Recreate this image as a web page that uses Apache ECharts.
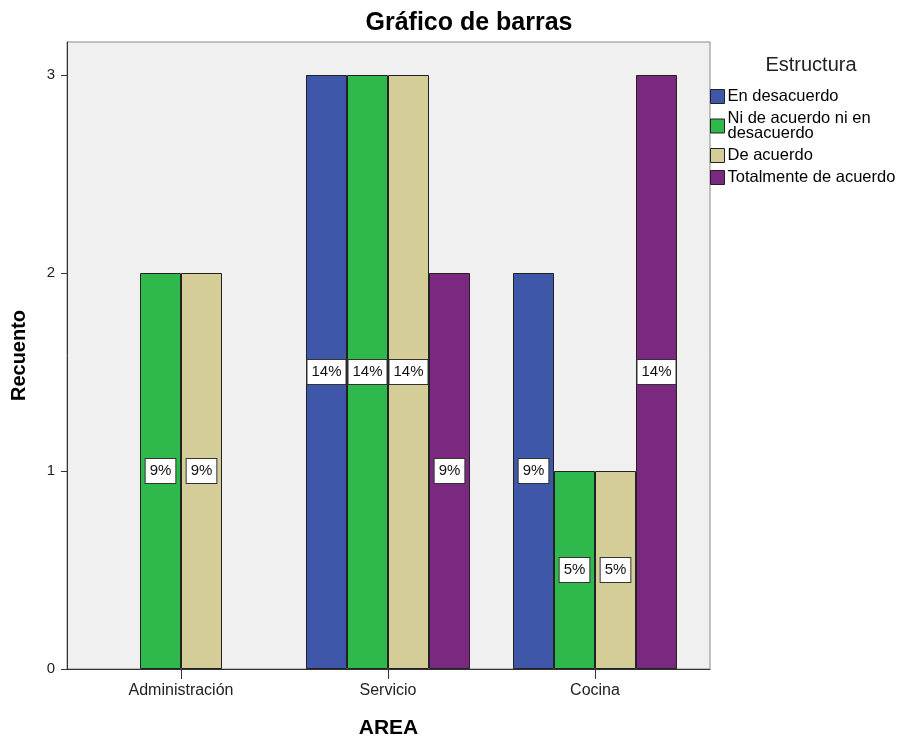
<!DOCTYPE html>
<html>
<head>
<meta charset="utf-8">
<script src="https://cdn.jsdelivr.net/npm/echarts@6/dist/echarts.min.js"></script>
<style>
  html, body { margin: 0; padding: 0; background: #fff; }
  #chart { width: 902px; height: 736px; }
</style>
</head>
<body>
<div id="chart"></div>
<script>
var areas = ['Administración', 'Servicio', 'Cocina'];
var groups = ['En desacuerdo', 'Ni de acuerdo ni en\ndesacuerdo', 'De acuerdo', 'Totalmente de acuerdo'];
var colors = ['#3f57a9', '#2fb84b', '#d4cd98', '#7b2980'];
// recuento por area
var enDesacuerdo = [null, 3, 2];
var niNi = [2, 3, 1];
var deAcuerdo = [2, 3, 1];
var totalmente = [null, 2, 3];
// porcentaje mostrado en cada barra
var pctEnDesacuerdo = ['', '14%', '9%'];
var pctNiNi = ['9%', '14%', '5%'];
var pctDeAcuerdo = ['9%', '14%', '5%'];
var pctTotalmente = ['', '9%', '14%'];
var yTicks = [0, 1, 2, 3];
var yMax = 3.1667;

var font = 'Liberation Sans, Arial, sans-serif';

function makeSeries(name, values, pcts, idx) {
    return {
        name: name,
        type: 'bar',
        xAxisIndex: 1,
        yAxisIndex: 1,
        barWidth: 41,
        barGap: '0%',
        itemStyle: {
            color: colors[idx],
            borderColor: '#222',
            borderWidth: 1
        },
        label: {
            show: true,
            position: 'inside',
            formatter: function (p) { return pcts[p.dataIndex]; },
            color: '#111',
            fontFamily: font,
            fontSize: 15,
            backgroundColor: '#fff',
            borderColor: '#333',
            borderWidth: 1,
            padding: [5, 4, 4, 4]
        },
        data: values
    };
}

var option = {
    animation: false,
    title: [
        {
            text: 'Gráfico de barras',
            left: 464,
            top: 6,
            textAlign: 'center',
            textStyle: { fontFamily: font, fontSize: 25, fontWeight: 'bold', color: '#000' }
        },
        {
            text: 'Estructura',
            left: 806,
            top: 50,
            textAlign: 'center',
            textStyle: { fontFamily: font, fontSize: 20, fontWeight: 'normal', color: '#222' }
        }
    ],
    legend: {
        orient: 'vertical',
        left: 710,
        top: 88,
        padding: 0,
        itemWidth: 14,
        itemHeight: 14,
        itemGap: 5,
        icon: 'rect',
        data: groups,
        itemStyle: { borderColor: '#222', borderWidth: 1 },
        textStyle: { fontFamily: font, fontSize: 16.5, color: '#000', lineHeight: 15, padding: [0, 0, 0, -2] }
    },
    grid: [
        { left: 67, right: 192, top: 42, bottom: 67, outerBoundsMode: 'none', show: true, backgroundColor: '#f0f0f0', borderColor: '#888', borderWidth: 1 },
        { left: 77.5, right: 203.5, top: 42, bottom: 67, outerBoundsMode: 'none' }
    ],
    xAxis: [
        {
            gridIndex: 0, type: 'value', min: 0, max: 1,
            axisLine: { show: true, onZero: false, lineStyle: { color: '#333', width: 1 } },
            axisTick: { show: false }, axisLabel: { show: false }, splitLine: { show: false },
            name: 'AREA', nameLocation: 'middle', nameGap: 49,
            nameTextStyle: { fontFamily: font, fontSize: 21, fontWeight: 'bold', color: '#000' }
        },
        {
            gridIndex: 1, type: 'category', data: areas,
            axisLine: { show: false },
            axisTick: { show: true, alignWithLabel: true, length: 10, lineStyle: { color: '#333' } },
            axisLabel: { fontFamily: font, fontSize: 16, color: '#222', margin: 14 },
            splitLine: { show: false }
        }
    ],
    yAxis: [
        {
            gridIndex: 0, type: 'value', min: 0, max: yMax, interval: 1,
            axisLine: { show: true, lineStyle: { color: '#333', width: 1 } },
            axisTick: { show: true, length: 6, customValues: yTicks, lineStyle: { color: '#333' } },
            axisLabel: { customValues: yTicks, fontFamily: font, fontSize: 15, color: '#222', margin: 12 },
            splitLine: { show: false },
            name: 'Recuento', nameLocation: 'middle', nameGap: 38, nameRotate: 90,
            nameTextStyle: { fontFamily: font, fontSize: 20, fontWeight: 'bold', color: '#000' }
        },
        {
            gridIndex: 1, type: 'value', min: 0, max: yMax, interval: 1, show: false,
            splitLine: { show: false }
        }
    ],
    series: [
        makeSeries(groups[0], enDesacuerdo, pctEnDesacuerdo, 0),
        makeSeries(groups[1], niNi, pctNiNi, 1),
        makeSeries(groups[2], deAcuerdo, pctDeAcuerdo, 2),
        makeSeries(groups[3], totalmente, pctTotalmente, 3)
    ]
};

var chart = echarts.init(document.getElementById('chart'));
chart.setOption(option);
</script>
</body>
</html>
